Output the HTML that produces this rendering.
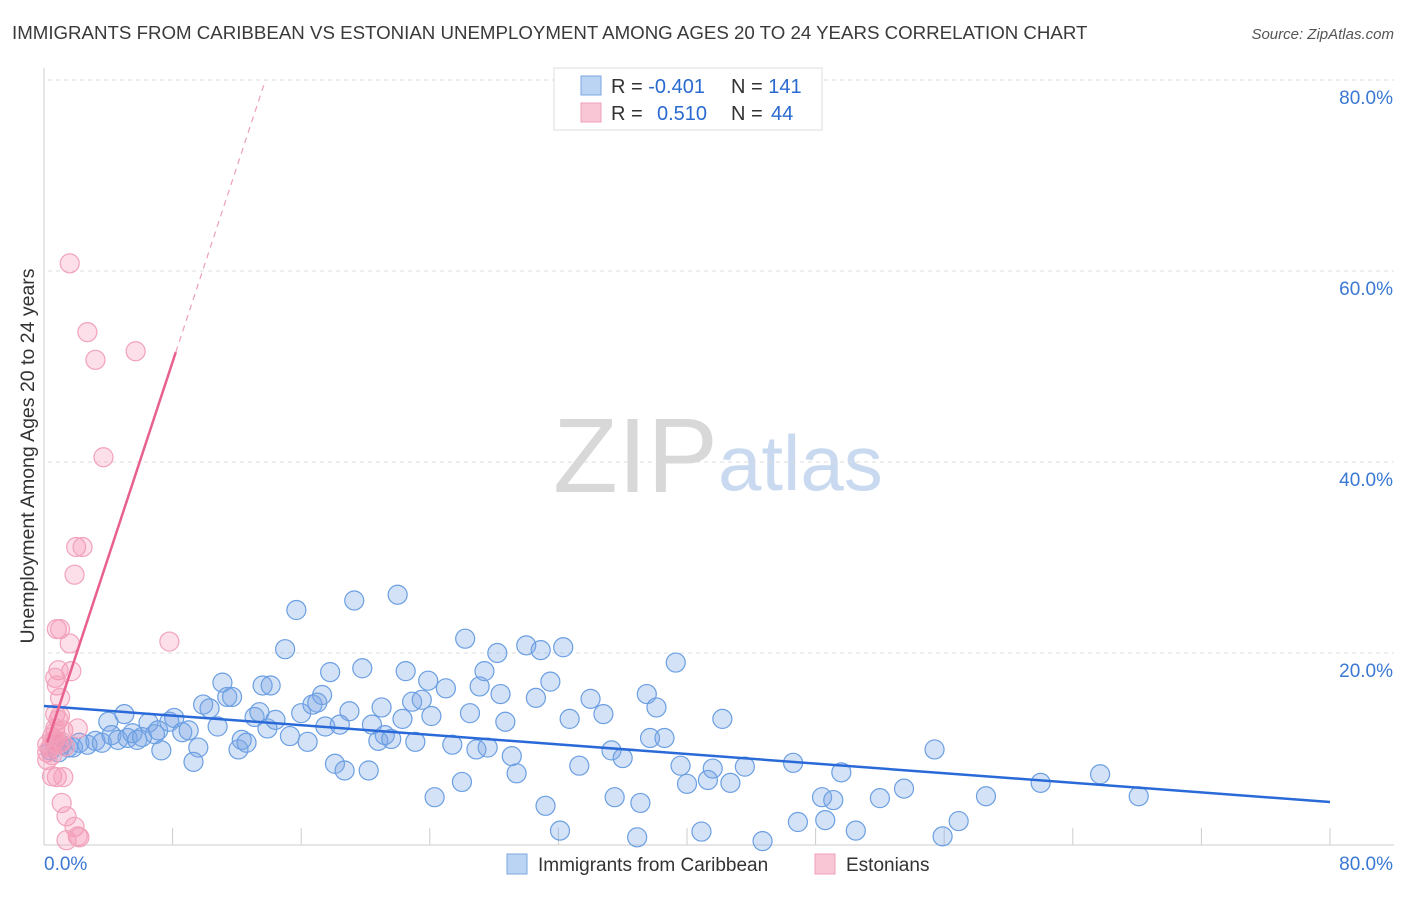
<!DOCTYPE html>
<html><head><meta charset="utf-8"><style>
body{margin:0;background:#fff;font-family:"Liberation Sans",sans-serif}
svg text{font-family:"Liberation Sans",sans-serif}
</style></head><body>
<svg id="chart" width="1406" height="892" viewBox="0 0 1406 892" xmlns="http://www.w3.org/2000/svg">
<text x="12" y="39" font-size="18.7" fill="#3a3a3a">IMMIGRANTS FROM CARIBBEAN VS ESTONIAN UNEMPLOYMENT AMONG AGES 20 TO 24 YEARS CORRELATION CHART</text>
<text x="1394" y="39" font-size="15" fill="#555" text-anchor="end" font-style="italic">Source: ZipAtlas.com</text>
<g>
<text x="553" y="492" font-size="106" fill="#d8d8d8" font-family="Liberation Serif,serif">ZIP</text>
<text x="718" y="490" font-size="78" fill="#c9daf0">atlas</text>
</g>
<g id="grid"></g>
<g id="axes"></g>
<g id="pts"></g>
<g id="lines"></g>
<text transform="translate(34,456) rotate(-90)" font-size="19.5" fill="#333" text-anchor="middle">Unemployment Among Ages 20 to 24 years</text>
<g>
<rect x="554" y="68" width="268" height="62" fill="#fff" stroke="#ddd"/>
<rect x="581" y="76" width="20" height="19" fill="#bcd4f4" stroke="#7aa6e0"/>
<rect x="581" y="103" width="20" height="19" fill="#f8c6d5" stroke="#f0a0b8"/>
<text x="611" y="93" font-size="20" fill="#333">R = <tspan fill="#2a6ad0">-0.401</tspan></text>
<text x="731" y="93" font-size="20" fill="#333">N = <tspan fill="#2a6ad0">141</tspan></text>
<text x="611" y="120" font-size="20" fill="#333">R = <tspan fill="#2a6ad0" x="657">0.510</tspan></text>
<text x="731" y="120" font-size="20" fill="#333">N = <tspan fill="#2a6ad0" x="771">44</tspan></text>
</g>
<g>
<rect x="507" y="854" width="20" height="20" fill="#bcd4f4" stroke="#7aa6e0"/>
<text x="538" y="871" font-size="19" fill="#333">Immigrants from Caribbean</text>
<rect x="815" y="854" width="20" height="20" fill="#f8c6d5" stroke="#f0a0b8"/>
<text x="846" y="871" font-size="19" fill="#333">Estonians</text>
</g>
</svg>
<script>
const blueX=[1.1,1.5,1.8,2.2,2.7,3.2,3.6,4.0,4.2,4.6,5.0,5.2,5.5,5.8,6.1,6.5,6.9,7.1,7.3,7.8,8.1,8.6,9.0,9.3,9.6,9.9,10.3,10.8,11.1,11.4,11.7,12.1,12.3,12.6,13.1,13.4,13.6,13.9,14.1,14.4,15.0,15.3,15.7,16.0,16.4,16.7,17.0,17.3,17.5,17.8,18.1,18.4,18.7,19.0,19.3,19.8,20.2,20.4,20.8,21.0,21.2,21.6,22.0,22.3,22.5,22.9,23.1,23.5,23.9,24.1,24.3,25.0,25.4,26.0,26.2,26.5,26.9,27.1,27.4,27.6,28.2,28.4,28.7,29.1,29.4,30.0,30.6,30.9,31.2,31.5,32.1,32.3,32.7,33.3,34.0,34.8,35.3,35.5,36.0,37.1,36.9,37.5,37.7,38.1,38.6,39.3,39.6,40.0,40.9,41.3,41.6,42.2,42.7,43.6,44.7,46.6,46.9,48.4,48.6,49.1,49.6,50.5,52.0,53.5,55.4,55.9,56.9,58.6,62.0,65.7,68.1,0.4,0.7,0.9];
const blueY=[10.4,10.1,10.1,10.6,10.4,10.8,10.6,12.8,11.4,10.9,13.6,11.1,11.6,10.9,11.2,12.7,11.5,11.9,9.8,12.8,13.2,11.7,11.9,8.6,10.1,14.6,14.2,12.3,16.9,15.4,15.4,9.9,10.9,10.6,13.3,13.8,16.6,12.1,16.6,13.0,20.4,11.3,24.5,13.7,10.7,14.6,14.8,15.6,12.3,18.0,8.4,12.5,7.7,13.9,25.5,18.4,7.7,12.5,10.8,14.3,11.4,11.0,26.1,13.1,18.1,14.9,10.7,15.1,17.1,13.4,4.9,16.3,10.4,6.5,21.5,13.7,9.9,16.5,18.1,10.1,20.0,15.7,12.8,9.2,7.4,20.8,15.3,20.3,4.0,17.0,1.4,20.6,13.1,8.2,15.2,13.6,9.8,4.9,9.0,4.3,0.7,15.7,11.1,14.3,11.1,19.0,8.2,6.3,1.3,6.7,7.9,13.1,6.4,8.1,0.3,8.5,2.3,4.9,2.5,4.6,7.5,1.4,4.8,5.8,9.9,0.8,2.4,5.0,6.4,7.3,5.0,9.8,10.4,9.6];
const pinkX=[1.6,2.7,3.2,5.7,3.7,2.0,2.4,1.9,0.8,1.0,7.8,1.6,1.7,0.9,0.7,0.8,1.0,0.7,1.0,0.9,0.7,1.2,2.1,0.5,0.7,0.2,0.4,0.6,0.9,1.1,0.2,0.5,0.2,0.5,0.8,1.2,1.1,1.4,1.9,2.1,1.4,2.2,0.7,1.3];
const pinkY=[60.8,53.6,50.7,51.6,40.5,31.1,31.1,28.2,22.5,22.5,21.2,21.0,18.1,18.2,17.4,16.6,15.3,13.6,13.4,13.0,12.1,11.9,12.1,11.2,10.9,10.4,10.1,10.7,10.5,10.7,9.6,9.3,8.8,7.1,7.0,7.0,4.3,2.9,1.8,0.8,0.4,0.7,11.7,10.2];
const yTicks=[20,40,60,80];
const yTickLabels=["20.0%","40.0%","60.0%","80.0%"];
const xTickVals=[0,8,16,24,32,40,48,56,64,72,80];
const blueTrend=[14.45,4.4];
const pinkTrend=[9.6,5.11];
const NS="http://www.w3.org/2000/svg";
const X0=44,X1=1330,Y0=844,Y1=80;
function sx(v){return X0+(X1-X0)*v/80;}
function sy(v){return Y0-(Y0-Y1)*v/80;}
function mk(p,t,a){const e=document.createElementNS(NS,t);for(const k in a)e.setAttribute(k,a[k]);p.appendChild(e);return e;}
const grid=document.getElementById('grid'),axes=document.getElementById('axes'),pts=document.getElementById('pts'),lines=document.getElementById('lines');
yTicks.forEach((v,i)=>{
 const l=mk(grid,'line',{x1:48,x2:1394,y1:sy(v),y2:sy(v),stroke:'#ddd','stroke-dasharray':'4,4'});
 
 
 const t=mk(grid,'text',{x:1393,y:sy(v)+24,'font-size':19,fill:'#3a78d4','text-anchor':'end'});
 t.textContent=yTickLabels[i];
 
 
});
const ya=mk(axes,'line',{x1:X0,x2:X0,y1:68,y2:845,stroke:'#ccc'});


const xa=mk(axes,'line',{x1:X0,x2:1394,y1:845,y2:845,stroke:'#ccc'});


xTickVals.forEach(v=>{
 const t=mk(axes,'line',{x1:sx(v),x2:sx(v),y1:828,y2:845,stroke:'#ccc'});
 
 
});
const xl0=mk(axes,'text',{x:44,y:870,'font-size':19,fill:'#3a78d4'});xl0.textContent='0.0%';


const xl1=mk(axes,'text',{x:1393,y:870,'font-size':19,fill:'#3a78d4','text-anchor':'end'});xl1.textContent='80.0%';


blueX.forEach((v,i)=>{
 const c=mk(pts,'circle',{cx:sx(v),cy:sy(blueY[i]),r:9.5,fill:'rgba(120,165,230,0.32)',stroke:'#6b9fe2','stroke-width':1.2});
 
 
});
pinkX.forEach((v,i)=>{
 const c=mk(pts,'circle',{cx:sx(v),cy:sy(pinkY[i]),r:9.5,fill:'rgba(245,150,180,0.3)',stroke:'#f2a2bb','stroke-width':1.2});
 
 
});
const bl=mk(lines,'line',{x1:sx(0),y1:sy(blueTrend[0]),x2:sx(80),y2:sy(blueTrend[1]),stroke:'#2a6ad8','stroke-width':2.5});


const pEnd=8.2,pTop=(80-pinkTrend[0])/pinkTrend[1];
const pl=mk(lines,'line',{x1:sx(0.2),y1:sy(pinkTrend[0]+pinkTrend[1]*0.2),x2:sx(pEnd),y2:sy(pinkTrend[0]+pinkTrend[1]*pEnd),stroke:'#e8608e','stroke-width':2.5});


const pd=mk(lines,'line',{x1:sx(pEnd),y1:sy(pinkTrend[0]+pinkTrend[1]*pEnd),x2:sx(pTop),y2:sy(80),stroke:'#eea0b8','stroke-width':1.2,'stroke-dasharray':'6,5'});


</script>
</body></html>
